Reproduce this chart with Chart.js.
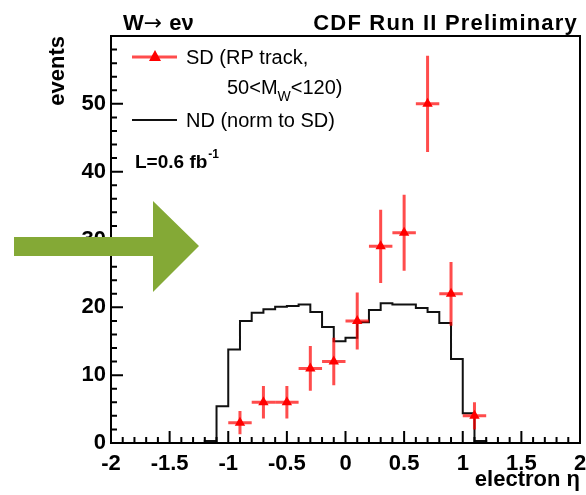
<!DOCTYPE html>
<html>
<head>
<meta charset="utf-8">
<script src="https://cdn.jsdelivr.net/npm/chart.js@4.4.1/dist/chart.umd.min.js"></script>
<style>
  html, body { margin: 0; padding: 0; background: #fff; }
</style>
</head>
<body>
<canvas id="c" width="586" height="495"></canvas>
<script>
// SD: RP track events, bins of 0.2 in electron eta
const sdEta = [-0.9, -0.7, -0.5, -0.3, -0.1, 0.1, 0.3, 0.5, 0.7, 0.9, 1.1];
const sdEvents = [3, 6, 6, 11, 12, 18, 29, 31, 50, 22, 4];
const sdErr = [1.7, 2.4, 2.4, 3.3, 3.5, 4.2, 5.4, 5.6, 7.1, 4.7, 2.0];
const sdHalfWidth = 0.1;

// ND histogram (normalised to SD), left bin edges + closing edge
const ndEdges = [-2, -1.2, -1.1, -1.0, -0.9, -0.8, -0.7, -0.6, -0.5, -0.4, -0.3, -0.2, -0.1,
  0, 0.1, 0.2, 0.3, 0.4, 0.5, 0.6, 0.7, 0.8, 0.9, 1.0, 1.1, 1.2, 2];
const ndEvents = [0, 0.3, 5.4, 13.8, 18.0, 19.2, 19.7, 20.1, 20.2, 20.4, 19.3, 17.1, 15.0,
  15.5, 17.8, 19.6, 20.6, 20.4, 20.4, 19.9, 19.3, 17.7, 12.4, 4.4, 0.3, 0, 0];

const FONT = "'Liberation Sans', Arial, Helvetica, sans-serif";
const RED = "#ff0000";

const ndPoints = ndEdges.map((x, i) => ({ x: x, y: ndEvents[i] }));
const sdPoints = sdEta.map((x, i) => ({ x: x, y: sdEvents[i] }));

// error bars under the SD markers
const errorBars = {
  id: "errorBars",
  beforeDatasetDraw(chart, args) {
    if (args.index !== 1) return;
    const ctx = chart.ctx, xs = chart.scales.x, ys = chart.scales.y;
    const a = chart.chartArea;
    ctx.save();
    ctx.beginPath();
    ctx.rect(a.left, a.top, a.right - a.left, a.bottom - a.top);
    ctx.clip();
    ctx.strokeStyle = "rgba(255,0,0,0.7)";
    ctx.lineWidth = 3;
    sdEta.forEach((x, i) => {
      const y = sdEvents[i];
      ctx.beginPath();
      ctx.moveTo(xs.getPixelForValue(x - sdHalfWidth), ys.getPixelForValue(y));
      ctx.lineTo(xs.getPixelForValue(x + sdHalfWidth), ys.getPixelForValue(y));
      ctx.moveTo(xs.getPixelForValue(x), ys.getPixelForValue(y - sdErr[i]));
      ctx.lineTo(xs.getPixelForValue(x), ys.getPixelForValue(y + sdErr[i]));
      ctx.stroke();
    });
    ctx.restore();
  }
};

// ROOT style frame with inner ticks
const frameTicks = {
  id: "frameTicks",
  afterDatasetsDraw(chart) {
    const ctx = chart.ctx, xs = chart.scales.x, ys = chart.scales.y;
    const a = chart.chartArea;
    ctx.save();
    ctx.strokeStyle = "#000";
    ctx.lineWidth = 2;
    ctx.beginPath();
    for (let i = -20; i <= 20; i++) {
      const px = xs.getPixelForValue(i / 10);
      const len = i % 5 === 0 ? 12 : 6;
      ctx.moveTo(px, a.bottom);
      ctx.lineTo(px, a.bottom - len);
    }
    for (let v = 0; v <= 60; v += 2) {
      const py = ys.getPixelForValue(v);
      const len = v % 10 === 0 ? 12 : 6;
      ctx.moveTo(a.left, py);
      ctx.lineTo(a.left + len, py);
    }
    ctx.stroke();
    ctx.strokeRect(a.left, a.top, a.right - a.left, a.bottom - a.top);
    ctx.restore();
  }
};

// titles, legend, luminosity and the green arrow
const decorations = {
  id: "decorations",
  afterDraw(chart) {
    const ctx = chart.ctx;
    ctx.save();
    ctx.fillStyle = "#000";
    ctx.textBaseline = "alphabetic";
    ctx.textAlign = "left";
    ctx.font = "bold 22px " + FONT;
    ctx.fillText("W", 123, 30);
    let tx = 123 + ctx.measureText("W").width;
    ctx.font = "22px 'DejaVu Sans', sans-serif";
    ctx.fillText("\u2192", tx, 30);
    tx += ctx.measureText("\u2192 ").width;
    ctx.font = "bold 22px " + FONT;
    ctx.fillText("e\u03bd", tx, 30);

    ctx.letterSpacing = "1.2px";
    ctx.textAlign = "right";
    ctx.fillText("CDF Run II Preliminary", 578, 30);
    ctx.letterSpacing = "0px";

    // legend
    ctx.textAlign = "left";
    ctx.strokeStyle = "rgba(255,0,0,0.7)";
    ctx.lineWidth = 3;
    ctx.beginPath();
    ctx.moveTo(132, 57);
    ctx.lineTo(177, 57);
    ctx.stroke();
    ctx.fillStyle = RED;
    ctx.beginPath();
    ctx.moveTo(155, 50);
    ctx.lineTo(161, 61);
    ctx.lineTo(149, 61);
    ctx.closePath();
    ctx.fill();

    ctx.fillStyle = "#000";
    ctx.font = "20px " + FONT;
    ctx.fillText("SD (RP track,", 186, 64);
    let x = 227;
    ctx.fillText("50<M", x, 94);
    x += ctx.measureText("50<M").width;
    ctx.font = "14px " + FONT;
    ctx.fillText("W", x, 101);
    x += ctx.measureText("W").width;
    ctx.font = "20px " + FONT;
    ctx.fillText("<120)", x, 94);

    ctx.strokeStyle = "#111";
    ctx.lineWidth = 2;
    ctx.beginPath();
    ctx.moveTo(132, 120);
    ctx.lineTo(177, 120);
    ctx.stroke();
    ctx.fillText("ND (norm to SD)", 186, 127);

    ctx.font = "bold 19px " + FONT;
    ctx.fillText("L=0.6 fb", 135, 168);
    const w = ctx.measureText("L=0.6 fb").width;
    ctx.font = "bold 12px " + FONT;
    ctx.fillText("-1", 135 + w + 1, 158);

    // arrow
    ctx.fillStyle = "#84a936";
    ctx.beginPath();
    ctx.moveTo(14, 237);
    ctx.lineTo(153, 237);
    ctx.lineTo(153, 201);
    ctx.lineTo(199, 246);
    ctx.lineTo(153, 292);
    ctx.lineTo(153, 256);
    ctx.lineTo(14, 256);
    ctx.closePath();
    ctx.fill();
    ctx.restore();
  }
};

new Chart(document.getElementById("c").getContext("2d"), {
  type: "scatter",
  data: {
    datasets: [
      {
        type: "line",
        label: "ND (norm to SD)",
        data: ndPoints,
        stepped: true,
        borderColor: "#111",
        borderWidth: 2,
        pointRadius: 0,
        fill: false,
        order: 1
      },
      {
        label: "SD (RP track, 50<MW<120)",
        data: sdPoints,
        pointStyle: "triangle",
        pointRadius: 6,
        backgroundColor: RED,
        borderColor: RED,
        borderWidth: 0,
        order: 0
      }
    ]
  },
  options: {
    responsive: false,
    animation: false,
    layout: { padding: { top: 36, right: 6, left: 0, bottom: 0 } },
    plugins: {
      legend: { display: false },
      tooltip: { enabled: false }
    },
    scales: {
      x: {
        type: "linear",
        min: -2,
        max: 2,
        grid: { display: false, drawTicks: false },
        border: { display: true, color: "#000", width: 2 },
        ticks: {
          stepSize: 0.5,
          autoSkip: false,
          maxRotation: 0,
          padding: 8,
          color: "#000",
          font: { family: FONT, size: 22, weight: "bold" },
          callback: (v) => String(Math.round(v * 10) / 10 || 0)
        },
        title: {
          display: true,
          text: "electron \u03b7",
          align: "end",
          color: "#000",
          padding: { top: 0, bottom: 2 },
          font: { family: FONT, size: 22, weight: "bold" }
        },
        afterFit(scale) {
          scale.height = 52;
          scale.paddingLeft = 0;
          scale.paddingRight = 0;
        }
      },
      y: {
        min: 0,
        max: 60,
        grid: { display: false, drawTicks: false },
        border: { display: true, color: "#000", width: 2 },
        ticks: {
          stepSize: 10,
          padding: 5,
          color: "#000",
          font: { family: FONT, size: 22, weight: "bold" },
          callback: (v) => (v === 60 ? "" : v)
        },
        title: {
          display: true,
          text: "events",
          align: "end",
          color: "#000",
          padding: { top: 45, bottom: 0 },
          font: { family: FONT, size: 22, weight: "bold" }
        },
        afterFit(scale) {
          scale.width = 111;
          scale.paddingTop = 0;
          scale.paddingBottom = 0;
        }
      }
    }
  },
  plugins: [errorBars, frameTicks, decorations]
});
</script>
</body>
</html>
